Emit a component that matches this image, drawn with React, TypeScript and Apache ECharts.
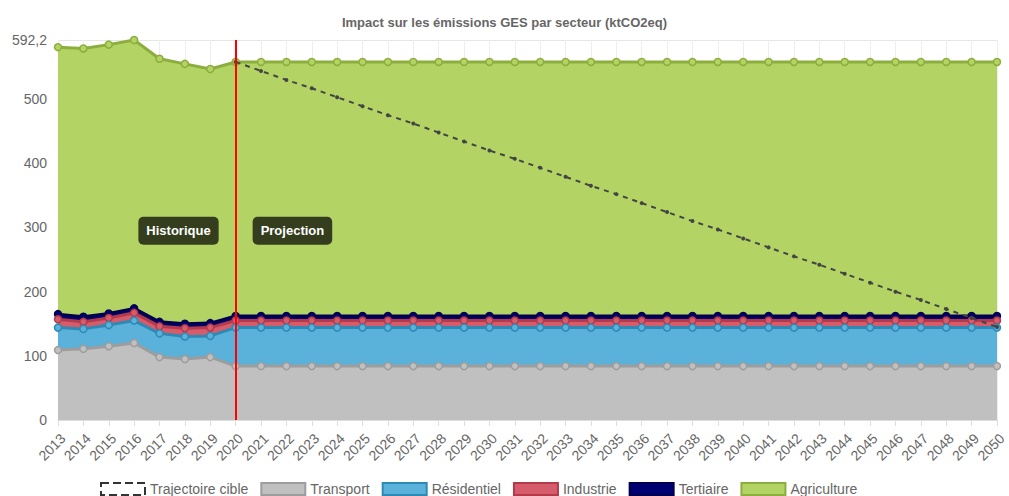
import React, { useEffect, useRef } from "react";
import * as echarts from "echarts";

const years = [
  "2013", "2014", "2015", "2016", "2017", "2018", "2019", "2020", "2021", "2022",
  "2023", "2024", "2025", "2026", "2027", "2028", "2029", "2030", "2031", "2032",
  "2033", "2034", "2035", "2036", "2037", "2038", "2039", "2040", "2041", "2042",
  "2043", "2044", "2045", "2046", "2047", "2048", "2049", "2050",
];

const transport = [109, 111, 115, 120, 98, 95, 98, 84, 84, 84, 84, 84, 84, 84, 84, 84, 84, 84, 84, 84, 84, 84, 84, 84, 84, 84, 84, 84, 84, 84, 84, 84, 84, 84, 84, 84, 84, 84];
const residentiel = [35, 31, 33, 35, 37, 35, 33, 60, 60, 60, 60, 60, 60, 60, 60, 60, 60, 60, 60, 60, 60, 60, 60, 60, 60, 60, 60, 60, 60, 60, 60, 60, 60, 60, 60, 60, 60, 60];
const industrie = [13, 11, 11, 12, 11, 13, 13, 11, 11, 11, 11, 11, 11, 11, 11, 11, 11, 11, 11, 11, 11, 11, 11, 11, 11, 11, 11, 11, 11, 11, 11, 11, 11, 11, 11, 11, 11, 11];
const tertiaire = [8, 8, 7, 7, 7, 7, 7, 7, 7, 7, 7, 7, 7, 7, 7, 7, 7, 7, 7, 7, 7, 7, 7, 7, 7, 7, 7, 7, 7, 7, 7, 7, 7, 7, 7, 7, 7, 7];
const agriculture = [416, 418, 419, 418.2, 410, 405, 396, 396, 396, 396, 396, 396, 396, 396, 396, 396, 396, 396, 396, 396, 396, 396, 396, 396, 396, 396, 396, 396, 396, 396, 396, 396, 396, 396, 396, 396, 396, 396];
const trajectoire = [
  null, null, null, null, null, null, null,
  558, 544, 530, 517, 503, 489, 475, 462, 448, 434, 420, 407, 393, 379, 365,
  352, 338, 324, 310, 297, 283, 269, 255, 242, 228, 214, 200, 187, 173, 159, 145,
];

const yMax = 592.2;
const yTickStep = 100;
const splitYear = "2020";
const labelValue = 295;

const FONT = "'Liberation Sans', Arial, sans-serif";

const sectors = [
  { name: "Transport", data: transport, area: "#c0c0c0", line: "#9d9d9d" },
  { name: "Résidentiel", data: residentiel, area: "#5ab1da", line: "#2e89b5" },
  { name: "Industrie", data: industrie, area: "#d65c6b", line: "#b23a4b" },
  { name: "Tertiaire", data: tertiaire, area: "#000070", line: "#00004e" },
  { name: "Agriculture", data: agriculture, area: "#b3d465", line: "#8cae3c" },
];

export default function App() {
  const ref = useRef<HTMLDivElement>(null);

  useEffect(() => {
    document.body.style.margin = "0";
    if (!ref.current) return;
    const chart = echarts.init(ref.current, null, { renderer: "svg" });

    const series: any[] = sectors.map((s, i) => ({
      name: s.name,
      type: "line",
      stack: "total",
      data: s.data,
      z: 10 - i,
      symbol: "circle",
      symbolSize: 7,
      showSymbol: true,
      lineStyle: { color: s.line, width: 3 },
      itemStyle: { color: s.area, borderColor: s.line, borderWidth: 1.5 },
      areaStyle: { color: s.area, opacity: 1 },
      emphasis: { disabled: true },
    }));

    series.push({
      name: "Trajectoire cible",
      type: "line",
      data: trajectoire,
      z: 20,
      symbol: "circle",
      symbolSize: 4,
      lineStyle: { color: "#444", width: 2, type: [5, 5] },
      itemStyle: { color: "#444" },
      emphasis: { disabled: true },
      markLine: {
        silent: true,
        z: 30,
        symbol: ["none", "none"],
        label: { show: false },
        lineStyle: { color: "#ff0000", width: 2, type: "solid" },
        data: [{ xAxis: splitYear }],
      },
    });

    const legendData = [
      {
        name: "Trajectoire cible",
        icon: "rect",
        itemStyle: { color: "#ffffff", borderColor: "#333", borderWidth: 2, borderType: "dashed" },
      },
      ...sectors.map((s) => ({
        name: s.name,
        icon: "rect",
        itemStyle: { color: s.area, borderColor: s.line, borderWidth: 2 },
      })),
    ];

    chart.setOption({
      animation: false,
      textStyle: { fontFamily: FONT },
      title: {
        text: "Impact sur les émissions GES par secteur (ktCO2eq)",
        left: "center",
        top: 11,
        textStyle: { fontSize: 13, fontWeight: "bold", color: "#666", fontFamily: FONT },
      },
      grid: { left: 58, right: 7, top: 40, bottom: 76 },
      legend: {
        data: legendData,
        top: 482,
        left: 100,
        padding: 0,
        itemWidth: 44,
        itemHeight: 12,
        itemGap: 12,
        textStyle: { color: "#666", fontSize: 14, fontFamily: FONT },
        selectedMode: false,
      },
      xAxis: {
        type: "category",
        data: years,
        boundaryGap: false,
        axisLine: { lineStyle: { color: "#ddd" } },
        axisTick: { show: true, lineStyle: { color: "#ddd" }, length: 6 },
        splitLine: { show: true, lineStyle: { color: "#eee" } },
        axisLabel: {
          rotate: 45,
          color: "#666",
          fontSize: 14,
          interval: 0,
          margin: 11,
          align: "right",
          verticalAlign: "top",
        },
      },
      yAxis: {
        type: "value",
        min: 0,
        max: yMax,
        interval: yTickStep,
        axisLine: { show: false },
        axisTick: { show: false },
        splitLine: { lineStyle: { color: "#e6e6e6" } },
        axisLabel: {
          color: "#666",
          fontSize: 14,
          margin: 11,
          formatter: (v: number) => String(v).replace(".", ","),
        },
      },
      series,
    });

    const p = chart.convertToPixel({ gridIndex: 0 }, [splitYear, labelValue]) as number[];
    const boxStyle = {
      fill: "#fff",
      font: `bold 13px ${FONT}`,
      backgroundColor: "#343e1e",
      padding: [8, 8, 7, 8],
      borderRadius: 5,
      verticalAlign: "middle",
    };
    chart.setOption({
      graphic: [
        {
          type: "text",
          x: p[0] - 17,
          y: p[1],
          z: 100,
          style: { ...boxStyle, text: "Historique", align: "right" },
        },
        {
          type: "text",
          x: p[0] + 17,
          y: p[1],
          z: 100,
          style: { ...boxStyle, text: "Projection", align: "left" },
        },
      ],
    });

    return () => chart.dispose();
  }, []);

  return <div ref={ref} style={{ width: 1009, height: 496 }} />;
}
